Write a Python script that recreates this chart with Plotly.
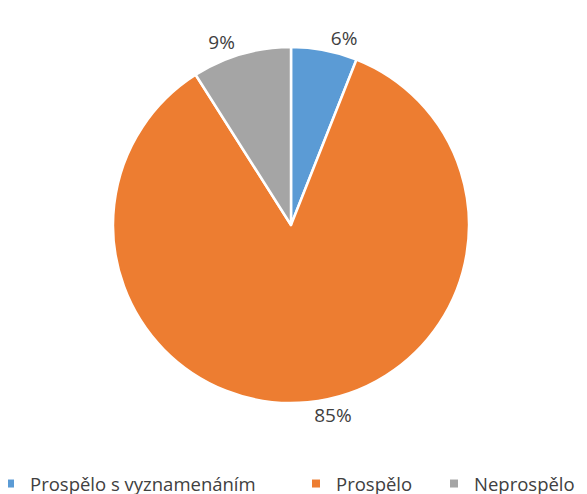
import plotly.graph_objects as go

labels = ["Prospělo s vyznamenáním", "Prospělo", "Neprospělo"]
values = [6, 85, 9]
colors = ["#5B9BD5", "#ED7D31", "#A5A5A5"]

W, H = 587, 494
OFF = 8  # default body margin of the html page
B = 40   # bottom margin that holds the legend
PH = H - B

fig = go.Figure()
fig.add_trace(go.Pie(
    labels=labels,
    values=values,
    sort=False,
    direction="clockwise",
    rotation=0,
    marker=dict(colors=colors, line=dict(color="white", width=2.5)),
    textinfo="percent",
    textposition="outside",
    outsidetextfont=dict(size=19, color="#404040"),
    domain=dict(x=[(113 - OFF) / W, (469 - OFF) / W],
                y=[1 - (403 - OFF) / PH, 1 - (47 - OFF) / PH]),
    hoverinfo="label+percent",
    showlegend=False,
))

# legend entries, one legend each so they can be spaced like the original
legend_x = [-18, 288, 426]
legend_names = ["legend", "legend2", "legend3"]
for name, color, lg in zip(labels, colors, legend_names):
    fig.add_trace(go.Scatter(
        x=[None], y=[None], mode="markers", name=name,
        marker=dict(symbol="square", size=8, color=color),
        legend=lg, hoverinfo="skip",
    ))

legend_style = dict(
    orientation="h",
    xanchor="left",
    y=(PH - (484 - OFF)) / PH, yanchor="middle",
    font=dict(size=18.5, color="#404040"),
    bgcolor="rgba(0,0,0,0)",
)

fig.update_layout(
    width=W, height=H,
    margin=dict(l=0, r=0, t=0, b=B, autoexpand=False),
    paper_bgcolor="white",
    plot_bgcolor="white",
    font=dict(family="Open Sans, sans-serif", color="#404040"),
    xaxis=dict(visible=False),
    yaxis=dict(visible=False),
    legend=dict(legend_style, x=legend_x[0] / W),
    legend2=dict(legend_style, x=legend_x[1] / W),
    legend3=dict(legend_style, x=legend_x[2] / W),
)

fig.write_html("out.html")
